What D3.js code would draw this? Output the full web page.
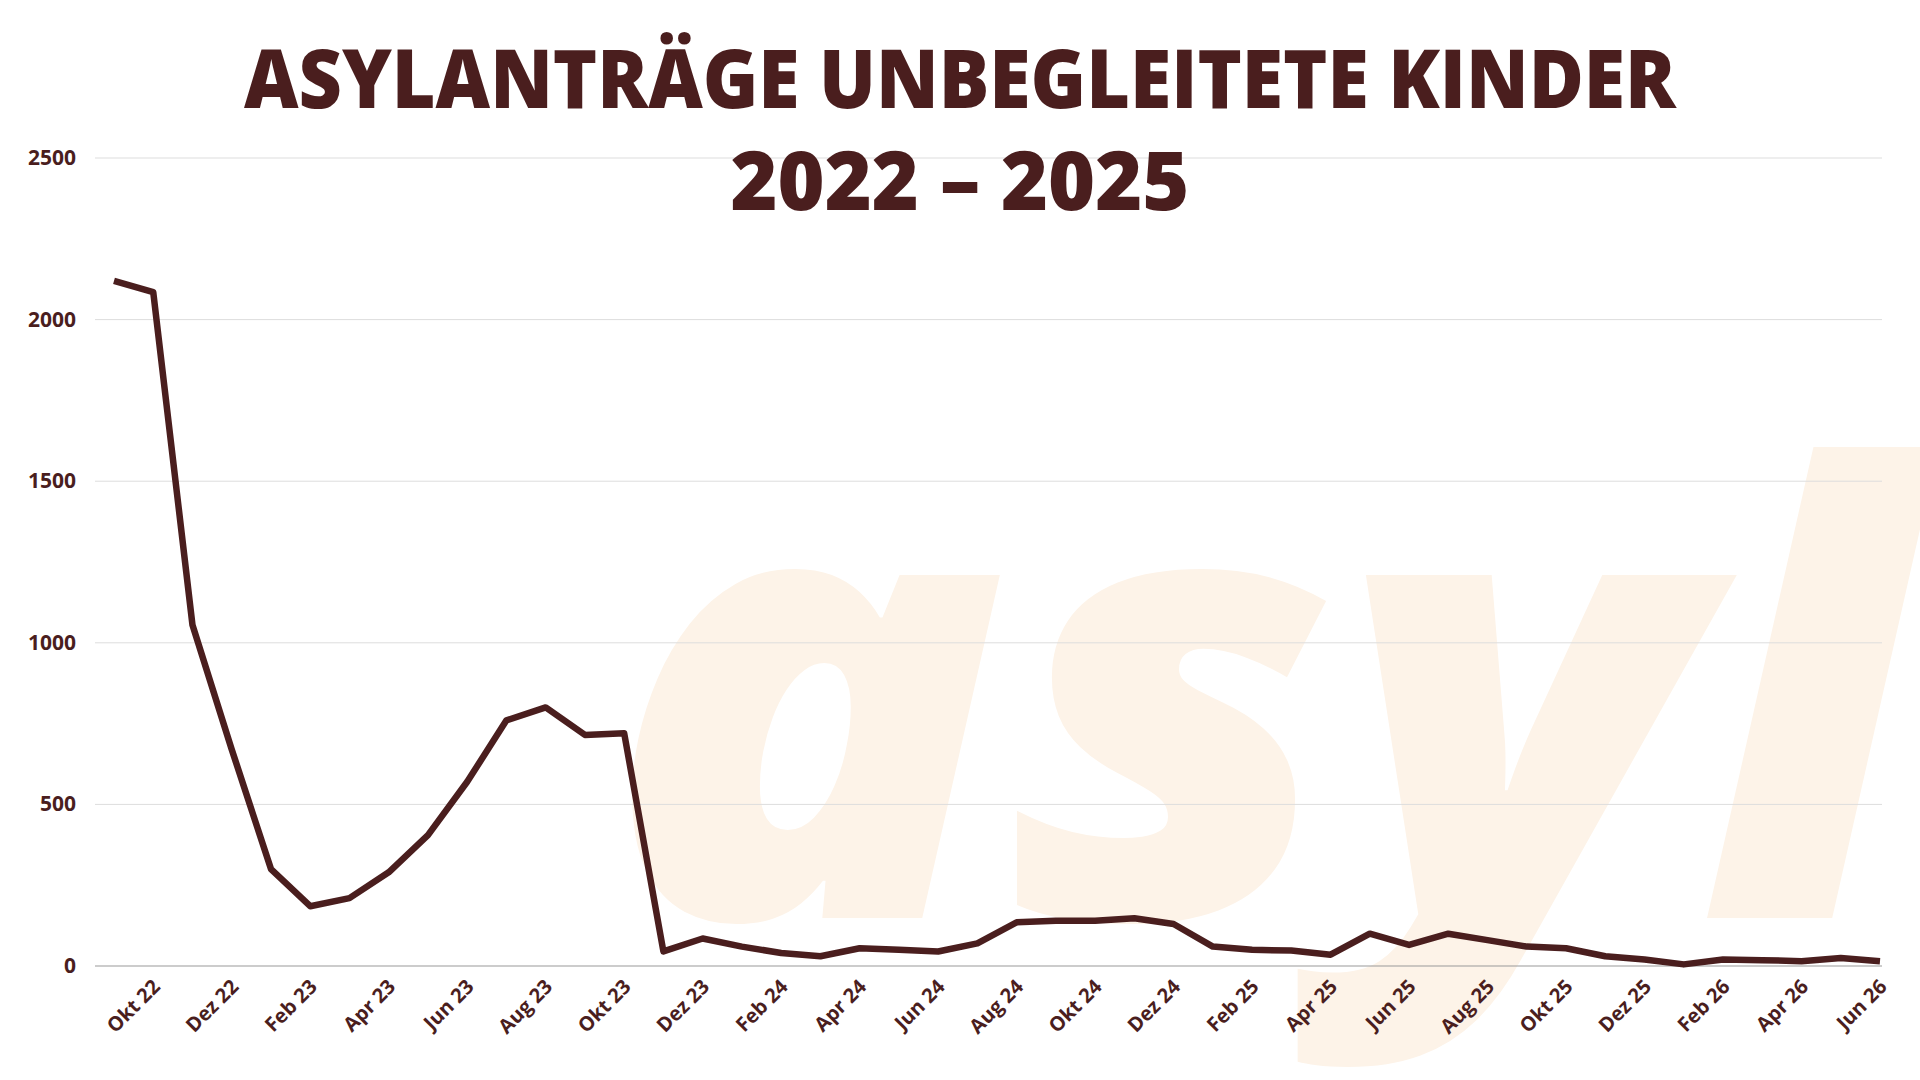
<!DOCTYPE html>
<html>
<head>
  <style>
    body { margin: 0; background: #fff; }
    text { font-family: "Open Sans", sans-serif; fill: #4a1e1e; }
  </style>
</head>
<body>
  <script src="https://d3js.org/d3.v7.min.js"></script>
  <script>
    // monthly values Sep 22 .. Jun 26
    const months = ["Sep 22","Okt 22","Nov 22","Dez 22","Jan 23","Feb 23","Mär 23","Apr 23","Mai 23","Jun 23","Jul 23","Aug 23",
      "Sep 23","Okt 23","Nov 23","Dez 23","Jan 24","Feb 24","Mär 24","Apr 24","Mai 24","Jun 24","Jul 24","Aug 24",
      "Sep 24","Okt 24","Nov 24","Dez 24","Jan 25","Feb 25","Mär 25","Apr 25","Mai 25","Jun 25","Jul 25","Aug 25",
      "Sep 25","Okt 25","Nov 25","Dez 25","Jan 26","Feb 26","Mär 26","Apr 26","Mai 26","Jun 26"];
    const values = [2120, 2085, 1055, 670, 300, 185, 210, 290, 405, 570, 760, 800,
      715, 720, 45, 85, 60, 40, 30, 55, 50, 45, 70, 135,
      140, 140, 148, 130, 60, 50, 48, 35, 100, 65, 100, 80,
      60, 55, 30, 20, 5, 20, 18, 15, 25, 15];
    const yTicks = [0, 500, 1000, 1500, 2000, 2500];
    const xLabels = months.filter((m, i) => i % 2 === 1);

    const width = 1920, height = 1080;
    const svg = d3.select('body').append('svg').attr('width', width).attr('height', height);

    const x = d3.scalePoint().domain(months).range([114, 1880]);
    const y = d3.scaleLinear().domain([0, 2500]).range([966, 158]);

    // watermark
    svg.append('text').text('asyl')
      .attr('x', 605).attr('y', 918)
      .attr('textLength', 1310).attr('lengthAdjust', 'spacingAndGlyphs')
      .style('font-size', '620px').style('font-weight', 800).style('font-style', 'italic')
      .style('fill', '#fdf3e8');

    // grid
    svg.selectAll('.grid').data(yTicks).enter().append('line')
      .attr('x1', 95).attr('x2', 1882)
      .attr('y1', d => y(d)).attr('y2', d => y(d))
      .attr('stroke', d => d === 0 ? '#999' : '#ddd').attr('stroke-width', 1);

    svg.selectAll('.ylab').data(yTicks).enter().append('text')
      .attr('x', 76).attr('y', d => y(d) + 7)
      .attr('text-anchor', 'end')
      .style('font-size', '21px').style('font-weight', 700)
      .text(d => d);

    svg.selectAll('.xlab').data(xLabels).enter().append('text')
      .attr('transform', d => `translate(${x(d) + 8},${y(0) + 22}) rotate(-45)`)
      .attr('text-anchor', 'end')
      .style('font-size', '20px').style('font-weight', 700)
      .text(d => d);

    svg.append('path').datum(values)
      .attr('fill', 'none').attr('stroke', '#4a1e1e').attr('stroke-width', 6.5)
      .attr('stroke-linejoin', 'round')
      .attr('d', d3.line().x((d, i) => x(months[i])).y(d => y(d)));

    const title = ["ASYLANTRÄGE UNBEGLEITETE KINDER", "2022 – 2025"];
    const titleW = [1432, 459];
    svg.selectAll('.title').data(title).enter().append('text')
      .attr('x', (d, i) => 960 - titleW[i] / 2).attr('y', (d, i) => 108 + i * 102)
      .attr('textLength', (d, i) => titleW[i]).attr('lengthAdjust', 'spacingAndGlyphs')
      .style('font-size', '82px').style('font-weight', 800)
      .text(d => d);
  </script>
</body>
</html>
